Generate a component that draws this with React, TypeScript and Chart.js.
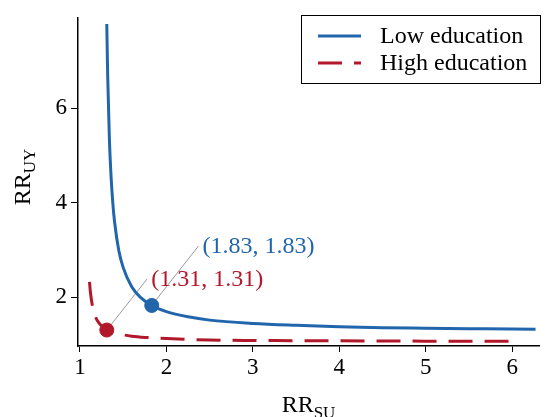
import React, { useEffect, useRef } from "react";
import { Chart, registerables } from "chart.js";

Chart.register(...registerables);

// Low education curve (RR_SU, RR_UY)
const LOW_X = [1.31, 1.32, 1.34, 1.36, 1.38, 1.4, 1.45, 1.5, 1.6, 1.7, 1.83, 2.0, 2.25, 2.5, 3.0, 3.5, 4.0, 4.5, 5.0, 5.5, 6.0, 6.27];
const LOW_Y = [7.78, 6.72, 5.36, 4.54, 3.99, 3.6, 2.98, 2.63, 2.22, 2.0, 1.83, 1.7, 1.59, 1.52, 1.45, 1.41, 1.38, 1.36, 1.35, 1.34, 1.33, 1.325];
// High education curve
const HIGH_X = [1.11, 1.12, 1.14, 1.17, 1.2, 1.25, 1.31, 1.4, 1.6, 1.8, 2.0, 2.5, 3.0, 3.5, 4.0, 4.5, 5.0, 5.5, 6.05];
const HIGH_Y = [2.33, 2.12, 1.86, 1.64, 1.51, 1.4, 1.31, 1.25, 1.18, 1.15, 1.13, 1.1, 1.09, 1.086, 1.082, 1.078, 1.076, 1.074, 1.073];

const LOW_POINT = [1.83, 1.83];
const HIGH_POINT = [1.31, 1.31];
const LOW_LABEL = "(1.83, 1.83)";
const HIGH_LABEL = "(1.31, 1.31)";
const LOW_LABEL_AT = [2.371, 3.088];
const HIGH_LABEL_AT = [1.777, 2.39];

const X_TICKS = [1, 2, 3, 4, 5, 6];
const Y_TICKS = [2, 4, 6];
const SERIES_NAMES = ["Low education", "High education"];

const BLUE = "#2166ac";
const RED = "#b2182b";
const FONT = "Liberation Serif";

const overlay = {
  id: "overlay",
  beforeDatasetsDraw(chart: any) {
    const ctx = chart.ctx;
    const xs = chart.scales.x;
    const ys = chart.scales.y;
    ctx.save();
    ctx.strokeStyle = "#999999";
    ctx.lineWidth = 1;
    const lines = [
      [LOW_POINT, LOW_LABEL_AT],
      [HIGH_POINT, HIGH_LABEL_AT],
    ];
    for (const [a, b] of lines) {
      ctx.beginPath();
      ctx.moveTo(xs.getPixelForValue(a[0]), ys.getPixelForValue(a[1]));
      ctx.lineTo(xs.getPixelForValue(b[0]), ys.getPixelForValue(b[1]));
      ctx.stroke();
    }
    ctx.restore();
  },
  afterDraw(chart: any) {
    const ctx = chart.ctx;
    const xs = chart.scales.x;
    const ys = chart.scales.y;
    const area = chart.chartArea;
    ctx.save();
    // point labels
    ctx.font = `24px "${FONT}"`;
    ctx.textBaseline = "middle";
    ctx.textAlign = "left";
    ctx.fillStyle = BLUE;
    ctx.fillText(LOW_LABEL, xs.getPixelForValue(LOW_LABEL_AT[0]) + 4, ys.getPixelForValue(LOW_LABEL_AT[1]) + 1);
    ctx.fillStyle = RED;
    ctx.fillText(HIGH_LABEL, xs.getPixelForValue(HIGH_LABEL_AT[0]) + 4, ys.getPixelForValue(HIGH_LABEL_AT[1]) + 1);

    // legend
    const lx = 301, ly = 15, lw = 239, lh = 68;
    ctx.fillStyle = "#ffffff";
    ctx.fillRect(lx, ly, lw, lh);
    ctx.strokeStyle = "#000000";
    ctx.lineWidth = 1;
    ctx.strokeRect(lx + 0.5, ly + 0.5, lw, lh);
    const rows = [
      { name: SERIES_NAMES[0], color: BLUE, dash: [] as number[], y: 36 },
      { name: SERIES_NAMES[1], color: RED, dash: [24, 12], y: 63 },
    ];
    for (const r of rows) {
      ctx.strokeStyle = r.color;
      ctx.lineWidth = 3;
      ctx.setLineDash(r.dash);
      ctx.beginPath();
      ctx.moveTo(318, r.y);
      ctx.lineTo(361, r.y);
      ctx.stroke();
      ctx.setLineDash([]);
      ctx.fillStyle = "#000000";
      ctx.font = `24px "${FONT}"`;
      ctx.textBaseline = "middle";
      ctx.fillText(r.name, 380, r.y + 1);
    }

    // axis titles
    ctx.fillStyle = "#000000";
    ctx.textBaseline = "alphabetic";
    const big = `24px "${FONT}"`;
    const small = `17px "${FONT}"`;
    ctx.font = big;
    const wRR = ctx.measureText("RR").width;
    ctx.font = small;
    const wSU = ctx.measureText("SU").width;
    const cx = (area.left + area.right) / 2;
    let sx = cx - (wRR + wSU) / 2;
    ctx.font = big;
    ctx.fillText("RR", sx, 412);
    ctx.font = small;
    ctx.fillText("SU", sx + wRR, 418);
    ctx.font = big;
    const wRR2 = ctx.measureText("RR").width;
    ctx.font = small;
    const wUY = ctx.measureText("UY").width;
    ctx.translate(30, 177);
    ctx.rotate(-Math.PI / 2);
    sx = -(wRR2 + wUY) / 2;
    ctx.font = big;
    ctx.fillText("RR", sx, 0);
    ctx.font = small;
    ctx.fillText("UY", sx + wRR2, 5);
    ctx.restore();
  },
};

export default function App() {
  const ref = useRef<HTMLCanvasElement | null>(null);
  useEffect(() => {
    let chart: any = null;
    let cancelled = false;
    const build = () => {
      if (cancelled || !ref.current) return;
      chart = new Chart(ref.current, {
        type: "scatter",
        data: {
          datasets: [
            {
              label: SERIES_NAMES[0],
              data: LOW_X.map((x, i) => ({ x, y: LOW_Y[i] })),
              showLine: true,
              borderColor: BLUE,
              borderWidth: 3,
              pointRadius: 0,
              cubicInterpolationMode: "monotone",
            },
            {
              label: SERIES_NAMES[1],
              data: HIGH_X.map((x, i) => ({ x, y: HIGH_Y[i] })),
              showLine: true,
              borderColor: RED,
              borderWidth: 3,
              borderDash: [24, 12],
              pointRadius: 0,
              cubicInterpolationMode: "monotone",
            },
            {
              label: "low point",
              data: [{ x: LOW_POINT[0], y: LOW_POINT[1] }],
              pointRadius: 7,
              pointBackgroundColor: BLUE,
              pointBorderColor: BLUE,
            },
            {
              label: "high point",
              data: [{ x: HIGH_POINT[0], y: HIGH_POINT[1] }],
              pointRadius: 7,
              pointBackgroundColor: RED,
              pointBorderColor: RED,
            },
          ],
        },
        options: {
          animation: false,
          responsive: false,
          layout: { padding: { top: 8, right: 2, left: 0, bottom: 0 } },
          plugins: { legend: { display: false }, tooltip: { enabled: false } },
          scales: {
            x: {
              type: "linear",
              min: 0.977,
              max: 6.31,
              afterBuildTicks: (s: any) => {
                s.ticks = X_TICKS.map((v) => ({ value: v }));
              },
              afterFit: (s: any) => {
                s.height = 71;
              },
              grid: { drawOnChartArea: false, tickLength: 6, color: "#000", lineWidth: 1 },
              border: { color: "#000", width: 1.5 },
              ticks: { color: "#000", font: { family: FONT, size: 23 }, padding: 2, maxRotation: 0 },
            },
            y: {
              type: "linear",
              min: 0.973,
              max: 7.91,
              afterBuildTicks: (s: any) => {
                s.ticks = Y_TICKS.map((v) => ({ value: v }));
              },
              afterFit: (s: any) => {
                s.width = 78;
              },
              grid: { drawOnChartArea: false, tickLength: 7, color: "#000", lineWidth: 1 },
              border: { color: "#000", width: 1.5 },
              ticks: { color: "#000", font: { family: FONT, size: 23 }, padding: 4 },
            },
          },
        },
        plugins: [overlay],
      } as any);
    };
    const fonts: any = (document as any).fonts;
    if (fonts && fonts.load) {
      Promise.all([fonts.load(`20px "${FONT}"`), fonts.load(`16px "${FONT}"`)])
        .catch(() => null)
        .then(build);
    } else {
      build();
    }
    return () => {
      cancelled = true;
      if (chart) chart.destroy();
    };
  }, []);
  return (
    <div style={{ position: "fixed", left: 0, top: 0, width: 547, height: 417, background: "#fff" }}>
      <canvas ref={ref} width={547} height={417} />
    </div>
  );
}
